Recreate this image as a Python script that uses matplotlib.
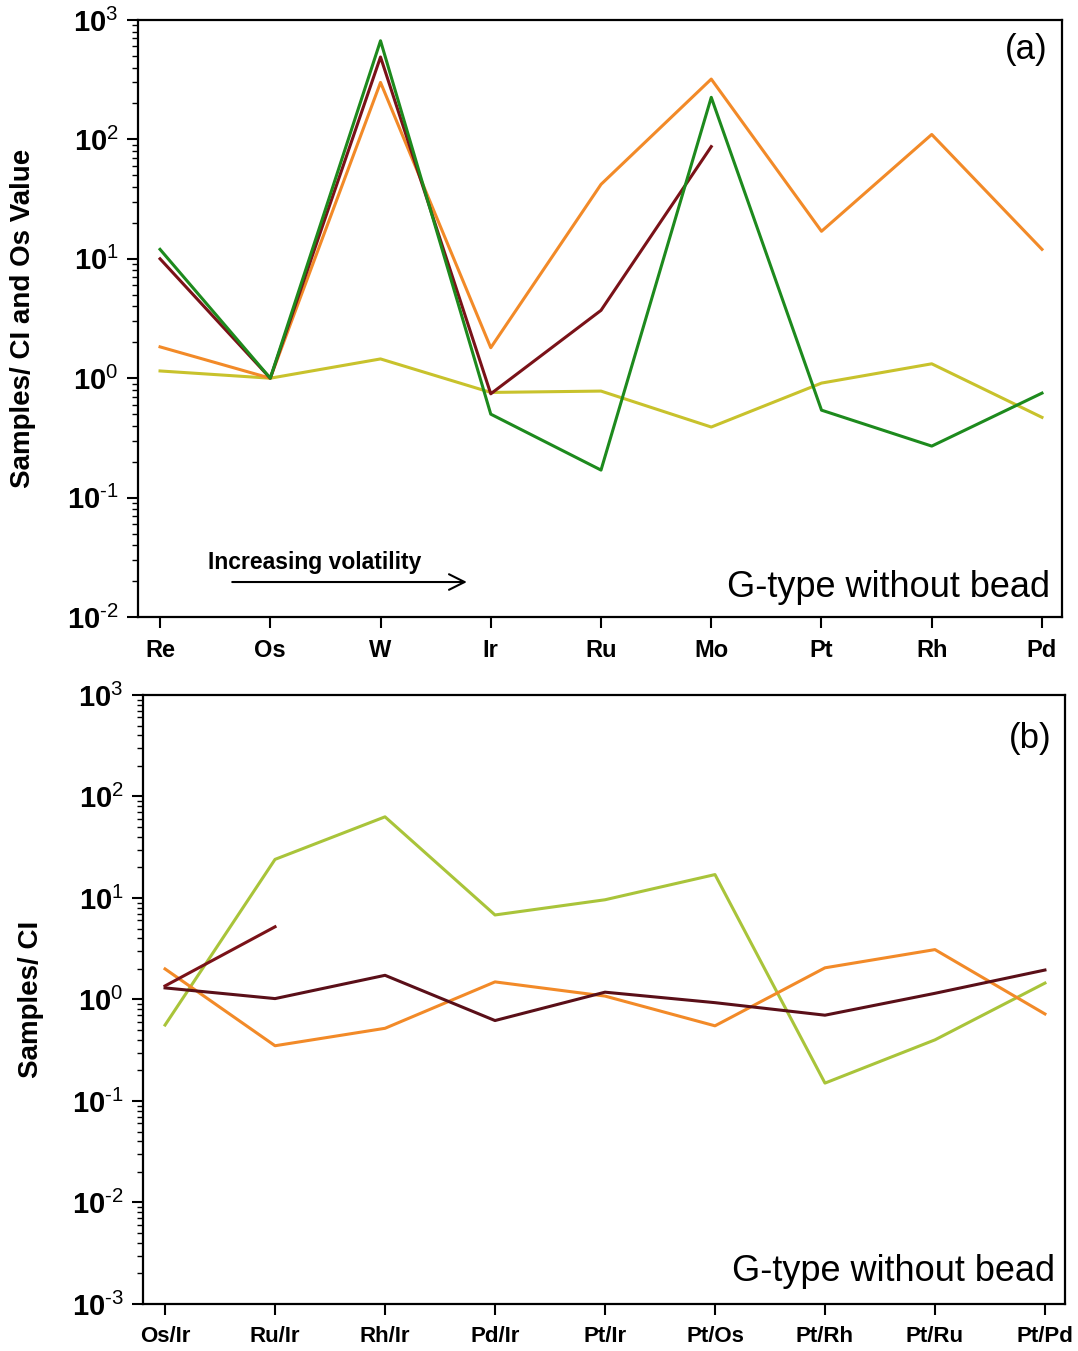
import matplotlib
matplotlib.use("Agg")
import matplotlib.pyplot as plt
import numpy as np
from matplotlib.ticker import LogLocator, FixedLocator, NullFormatter

plt.rcParams['font.family'] = ['Liberation Sans', 'DejaVu Sans']
plt.rcParams['mathtext.fontset'] = 'custom'
plt.rcParams['mathtext.rm'] = 'Liberation Sans'
plt.rcParams['mathtext.bf'] = 'Liberation Sans:bold'

# ---------------------------------------------------------------- data
elements = ['Re', 'Os', 'W', 'Ir', 'Ru', 'Mo', 'Pt', 'Rh', 'Pd']
a_green  = [12, 1.0, 670, 0.50, 0.17, 225, 0.54, 0.27, 0.75]
a_maroon = [10, 1.0, 490, 0.74, 3.7, 87]
a_orange = [1.83, 1.0, 300, 1.8, 42, 320, 17, 110, 12]
a_yellow = [1.15, 1.0, 1.45, 0.76, 0.78, 0.39, 0.91, 1.32, 0.47]

ratios = ['Os/Ir', 'Ru/Ir', 'Rh/Ir', 'Pd/Ir', 'Pt/Ir', 'Pt/Os', 'Pt/Rh', 'Pt/Ru', 'Pt/Pd']
b_yellow = [0.56, 24, 63, 6.8, 9.6, 17, 0.15, 0.40, 1.45]
b_orange = [2.0, 0.35, 0.52, 1.49, 1.08, 0.55, 2.05, 3.1, 0.72]
b_dark   = [1.3, 1.02, 1.73, 0.62, 1.18, 0.93, 0.70, 1.15, 1.95]
b_short  = [1.36, 5.2]

c_green = '#1d8a1d'
c_maroon = '#7a1218'
c_orange = '#f28a28'
c_yellow = '#c8c22c'
c_yellow_b = '#a9c43a'
c_dark = '#5a0f18'


def sup(v, pos=None):
    e = int(round(np.log10(v)))
    return r'$\mathbf{10}^{\mathrm{\text{%d}}}$' % e


def style_axes(ax, labels, lo, hi, tick_fs):
    ax.set_yscale('log')
    ax.set_ylim(10.0 ** lo, 10.0 ** hi)
    ax.set_xlim(-0.2, len(labels) - 0.82)
    ax.set_xticks(np.arange(len(labels)))
    ax.set_xticklabels(labels, fontsize=tick_fs, fontweight='bold')
    ax.yaxis.set_major_locator(FixedLocator([10.0 ** e for e in range(lo, hi + 1)]))
    ax.yaxis.set_major_formatter(plt.FuncFormatter(sup))
    ax.yaxis.set_minor_locator(LogLocator(base=10, subs=np.arange(2, 10), numticks=20))
    ax.yaxis.set_minor_formatter(NullFormatter())
    ax.tick_params(axis='y', which='major', direction='out', length=8, width=1.5,
                   labelsize=21, pad=6)
    ax.tick_params(axis='y', which='minor', direction='out', length=4, width=1.0)
    ax.tick_params(axis='x', which='major', direction='out', length=8, width=1.5, pad=8)
    for s in ax.spines.values():
        s.set_linewidth(1.6)


fig = plt.figure(figsize=(10.78, 13.51), dpi=100)

# ---------------------------------------------------------------- panel (a)
ax1 = fig.add_axes([0.128, 0.5433, 0.857, 0.4419])
x = np.arange(len(elements))
lw = 2.2
ax1.plot(x, a_yellow, color=c_yellow, lw=lw)
ax1.plot(x, a_orange, color=c_orange, lw=lw)
ax1.plot(x[:len(a_maroon)], a_maroon, color=c_maroon, lw=lw)
ax1.plot(x, a_green, color=c_green, lw=lw)
style_axes(ax1, elements, -2, 3, 17)
ax1.set_ylabel('Samples/ CI and Os Value', fontsize=20, fontweight='bold', labelpad=22)
ax1.text(0.984, 0.95, '(a)', transform=ax1.transAxes, ha='right', va='center', fontsize=25)
ax1.text(0.987, 0.05, 'G-type without bead', transform=ax1.transAxes,
         ha='right', va='center', fontsize=26)
ax1.text(0.076, 0.092, 'Increasing volatility', transform=ax1.transAxes,
         ha='left', va='center', fontsize=16.5, fontweight='bold')
ax1.annotate('', xy=(0.356, 0.0586), xytext=(0.102, 0.0586),
             xycoords='axes fraction', textcoords='axes fraction',
             arrowprops=dict(arrowstyle='->', lw=1.5, color='black',
                             mutation_scale=28, shrinkA=0, shrinkB=0))

# ---------------------------------------------------------------- panel (b)
ax2 = fig.add_axes([0.1327, 0.0348, 0.855, 0.4508])
xb = np.arange(len(ratios))
ax2.plot(xb, b_yellow, color=c_yellow_b, lw=lw)
ax2.plot(xb, b_orange, color=c_orange, lw=lw)
ax2.plot(xb, b_dark, color=c_dark, lw=lw)
ax2.plot(xb[:len(b_short)], b_short, color=c_maroon, lw=lw)
style_axes(ax2, ratios, -3, 3, 16)
ax2.set_ylabel('Samples/ CI', fontsize=20, fontweight='bold', labelpad=20)
ax2.text(0.986, 0.929, '(b)', transform=ax2.transAxes, ha='right', va='center', fontsize=25)
ax2.text(0.989, 0.054, 'G-type without bead', transform=ax2.transAxes,
         ha='right', va='center', fontsize=26)

fig.savefig('out.png', dpi=100)
